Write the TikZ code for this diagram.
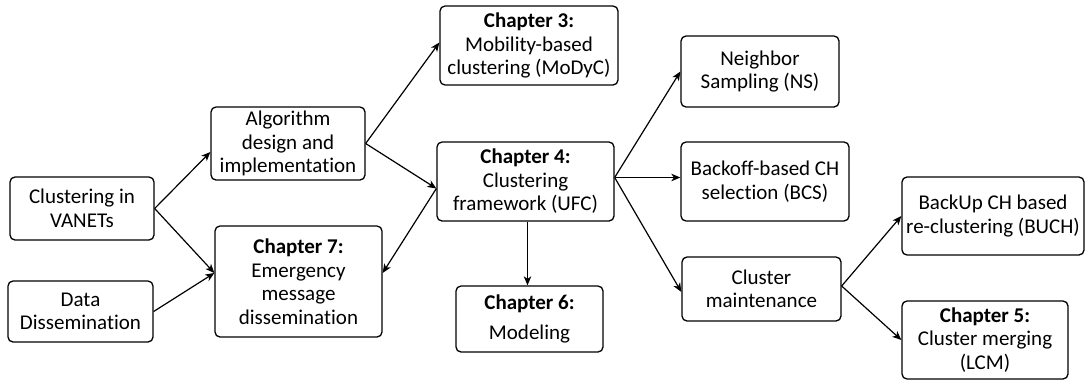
\documentclass[tikz,border=0pt]{standalone}
\usepackage{fontspec}
\setmainfont{Carlito}[Ligatures=CommonOff]
\usetikzlibrary{arrows.meta,calc}
\tikzset{
  box/.style={draw, line width=1.3pt, rounded corners=5pt, inner sep=0pt, align=center,
    font=\fontsize{21}{23.5}\selectfont},
  conn/.style={line width=1.2pt, -{Stealth[length=9pt,width=7.5pt,inset=2.5pt]}}
}
\begin{document}
\begin{tikzpicture}[x=1pt,y=-1pt]
\useasboundingbox (0,0) rectangle (1086,381);
\node[box, minimum width=144pt, minimum height=63pt] (clu) at (82,208.5) {Clustering in\\VANETs};
\node[box, minimum width=145pt, minimum height=61pt] (data) at (80.5,311.5) {Data\\Dissemination};
\node[box, minimum width=154pt, minimum height=73pt] (alg) at (288,143.5) {Algorithm\\design and\\implementation};
\node[box, minimum width=167pt, minimum height=111pt] (ch7) at (298.5,281.5) {\textbf{Chapter 7:}\\Emergency\\message\\dissemination};
\node[box, minimum width=178pt, minimum height=79pt] (ch3) at (529,45.5) {\textbf{Chapter 3:}\\Mobility-based\\clustering (MoDyC)};
\node[box, minimum width=177pt, minimum height=79pt] (ch4) at (525.5,181.5) {\textbf{Chapter 4:}\\Clustering\\framework (UFC)};
\node[box, minimum width=147pt, minimum height=66pt] (ch6) at (529.5,319) {\textbf{Chapter 6:}\\[6pt]Modeling};
\node[box, minimum width=158pt, minimum height=71pt] (ns) at (760,71.5) {Neighbor\\Sampling (NS)};
\node[box, minimum width=168pt, minimum height=79pt] (bcs) at (765,181.5) {Backoff-based CH\\selection (BCS)};
\node[box, minimum width=159pt, minimum height=64pt] (cm) at (761.5,289) {Cluster\\maintenance};
\node[box, minimum width=182pt, minimum height=78pt] (buch) at (993,216) {BackUp CH based\\re-clustering (BUCH)};
\node[box, minimum width=166pt, minimum height=78pt] (ch5) at (985,340) {\textbf{Chapter 5:}\\Cluster merging\\(LCM)};

\coordinate (algin) at ($(alg.west)+(0,8.5)$);
\coordinate (ch7in) at ($(ch7.west)+(0,-8.5)$);
\coordinate (ch3in) at ($(ch3.west)+(0,-3)$);
\coordinate (ch4in) at ($(ch4.west)+(0,7)$);
\coordinate (ch7r) at ($(ch7.east)+(0,-8.5)$);
\coordinate (ch4b) at ($(ch4.south)+(2,0)$);
\coordinate (ch4out) at ($(ch4.east)+(0,-4)$);
\coordinate (bcsin) at ($(bcs.west)+(0,-4)$);
\coordinate (cmin) at ($(cm.west)+(0,3)$);
\coordinate (cmout) at ($(cm.east)+(0,-3)$);

\draw[conn] (clu.east) -- (algin);
\draw[conn] (clu.east) -- (ch7in);
\draw[conn] (data.east) -- (ch7in);
\draw[conn] (alg.east) -- (ch3in);
\draw[conn] (alg.east) -- (ch4in);
\draw[conn] (ch4in) -- (ch7r);
\draw[conn] (ch4b) -- (ch4b |- ch6.north);
\draw[conn] (ch4out) -- (ns.west);
\draw[conn] (ch4out) -- (bcsin);
\draw[conn] (ch4out) -- (cmin);
\draw[conn] (cmout) -- (buch.west);
\draw[conn] (cmout) -- (ch5.west);
\end{tikzpicture}
\end{document}
